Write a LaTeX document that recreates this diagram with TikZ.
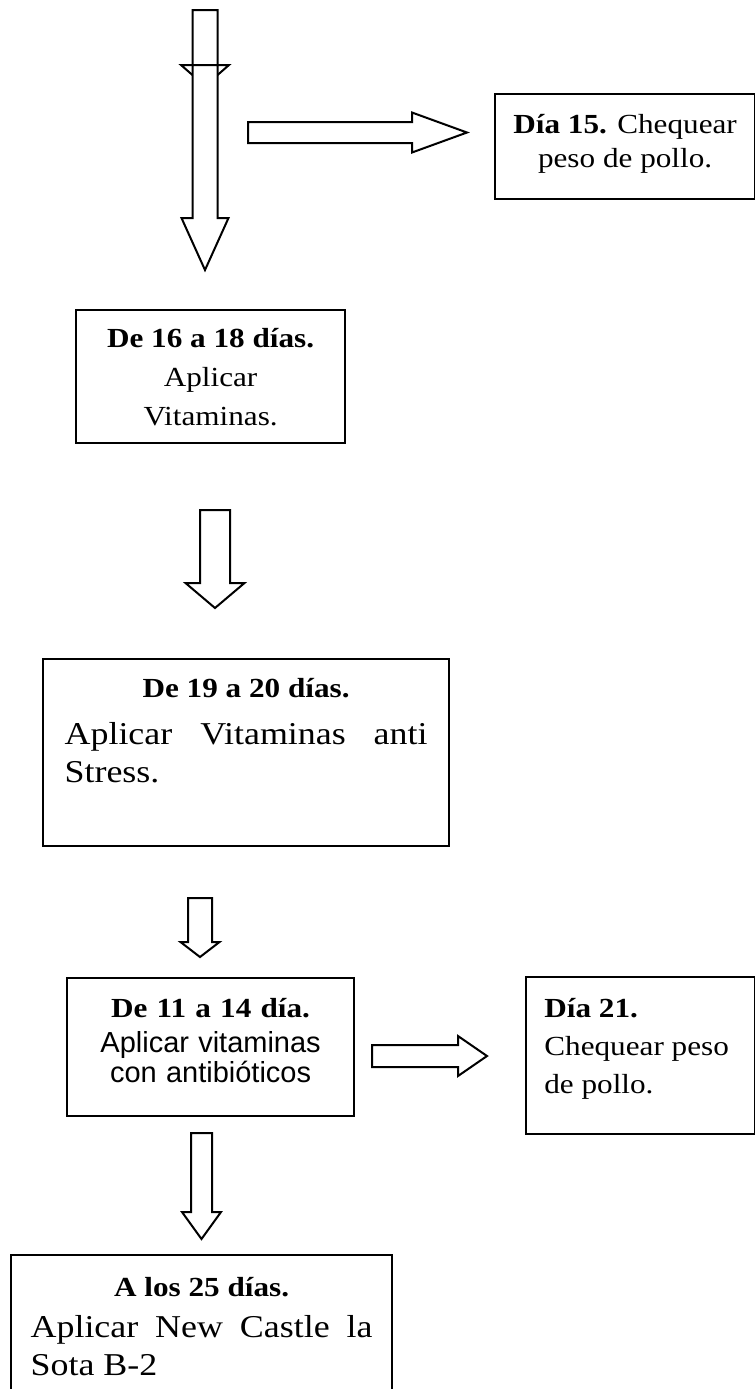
\documentclass[tikz,border=0pt]{standalone}
\usepackage{fontspec}
\setmainfont{Liberation Serif}[FakeStretch=1.13]
\setsansfont{Liberation Sans}
\usetikzlibrary{positioning}
\hyphenpenalty=10000
\tolerance=10000
\lineskiplimit=-10pt

\begin{document}
\begin{tikzpicture}[x=0.5pt,y=-0.5pt,
		paso/.style={draw,line width=1.1pt,inner sep=0pt,anchor=north west},
		texto/.style={inner sep=0pt,anchor=north,align=center,font=\fontsize{13.8}{19}\selectfont},
		flecha/.style={draw,line width=1pt,fill=white,line join=miter}]
			\clip (0,0) rectangle (755,1389);
			% cajas
			\node[paso,minimum width=130pt,minimum height=52.5pt] (dia15) at (494,93) {};
			\node[paso,minimum width=134.5pt,minimum height=66.5pt] (dia16) at (75,309) {};
			\node[paso,minimum width=203pt,minimum height=93.5pt] (dia19) at (42,658) {};
			\node[paso,minimum width=143.5pt,minimum height=69pt] (dia11) at (66,977) {};
			\node[paso,minimum width=114.5pt,minimum height=78.5pt] (dia21) at (525,976) {};
			\node[paso,minimum width=190.5pt,minimum height=100pt] (dia25) at (10,1254) {};
			% textos
			\node[texto,font=\fontsize{13.8}{17}\selectfont,below=10.5pt of dia15.north] (t15) {\textbf{Día 15.} Chequear\\peso de pollo.};
			\node[texto,font=\fontsize{13.8}{19.5}\selectfont,below=9.5pt of dia16.north] (t16) {\textbf{De 16 a 18 días.}\\Aplicar\\Vitaminas.};
			\node[texto,text width=181.5pt,align=justify,below=10pt of dia19.north] (t19)
				{{\centering\bfseries De 19 a 20 días.\par}\vspace{4.5pt}\fontsize{15.9}{18}\selectfont Aplicar Vitaminas anti Stress.};
			\node[texto,text width=130pt,below=10.5pt of dia11.north] (t11)
				{{\bfseries De 11 a 14 día.\par}\vspace{2.5pt}{\sffamily\fontsize{14.5}{15}\selectfont Aplicar vitaminas\\con antibióticos\par}};
			\node[texto,anchor=north west,align=left,below right=11pt and 9.5pt of dia21.north west] (t21) {\textbf{Día 21.}\\Chequear peso\\de pollo.};
			\node[texto,text width=171pt,align=justify,below=11.5pt of dia25.north] (t25)
				{{\centering\bfseries A los 25 días.\par}\vspace{1.5pt}\fontsize{15.9}{19}\selectfont Aplicar New Castle la Sota B-2};
			% flechas hacia abajo
			\foreach \Xc/\Ya/\Yb/\Yc/\S/\H in {205/10/65/86/12.5/24, 205/65/218/270/12.5/23.5, 215/510/583/608/15/29.5, 200/898/942/957/12/19.5, 201.5/1133/1212/1239/10.5/19.5}
				\draw[flecha] (\Xc-\S,\Ya) -- (\Xc+\S,\Ya) -- (\Xc+\S,\Yb) -- (\Xc+\H,\Yb) -- (\Xc,\Yc) -- (\Xc-\H,\Yb) -- (\Xc-\S,\Yb) -- cycle;
			% flechas hacia la derecha
			\foreach \Yc/\Xa/\Xb/\Xc/\S/\H in {132.5/248/412/467/10.5/20, 1056/372/458/487/11/20}
				\draw[flecha] (\Xa,\Yc-\S) -- (\Xb,\Yc-\S) -- (\Xb,\Yc-\H) -- (\Xc,\Yc) -- (\Xb,\Yc+\H) -- (\Xb,\Yc+\S) -- (\Xa,\Yc+\S) -- cycle;
		\end{tikzpicture}
\end{document}
